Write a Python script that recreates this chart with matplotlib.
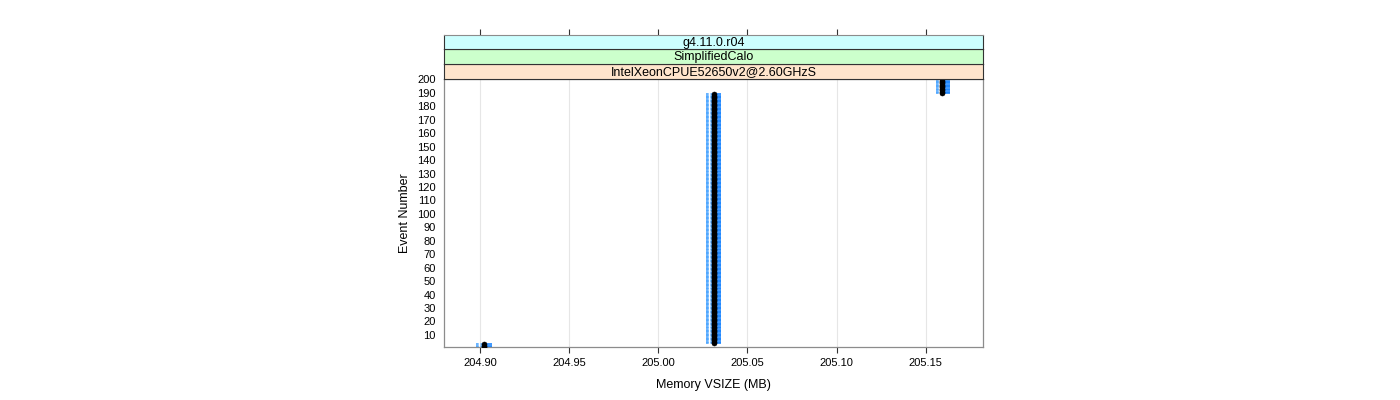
import numpy as np
import matplotlib
matplotlib.use('Agg')
import matplotlib.pyplot as plt

# ---- data ----
run_events = [3, 186, 11]                       # number of consecutive events in each run
run_mean = [204.9020, 205.0309, 205.1593]       # memory VSIZE (MB) per run
run_low = [204.8975, 205.0267, 205.1559]
run_high = [204.9063, 205.0351, 205.1638]
strip_labels = ['IntelXeonCPUE52650v2@2.60GHzS', 'SimplifiedCalo', 'g4.11.0.r04']
strip_colors = ['#ffe5cc', '#ccffcc', '#ccffff']
x_ticks = [204.90, 204.95, 205.00, 205.05, 205.10, 205.15]
x_ticklabels = ['204.90', '204.95', '205.00', '205.05', '205.10', '205.15']
y_ticks = list(range(10, 201, 10))

events = np.arange(1, sum(run_events) + 1)
mean = np.repeat(run_mean, run_events)
low = np.repeat(run_low, run_events)
high = np.repeat(run_high, run_events)

plt.rcParams['font.family'] = ['Liberation Sans', 'DejaVu Sans']

W, H = 1400, 400
fig = plt.figure(figsize=(14, 4), dpi=100)

def fx(px):
    return px / W

def fy(py):
    return 1 - py / H

xlim = (204.8795, 205.1823)
ylim = (1.0, 200.3)

left_px, right_px = 444, 983
top_px, bottom_px = 79, 347
ax = fig.add_axes([fx(left_px), fy(bottom_px), fx(right_px - left_px), (bottom_px - top_px) / H])
ax.set_xlim(*xlim)
ax.set_ylim(*ylim)

for xt in x_ticks:
    ax.axvline(xt, color='#e6e6e6', lw=0.8, zorder=0)

ax.hlines(events, low, mean, colors='#4da6ff', linestyles=(0, (1.6, 1.1)), lw=1.2, zorder=2)
ax.hlines(events, mean, high, colors='#1a85ff', linestyles='solid', lw=1.2, zorder=2)
ax.plot(mean, events, 'o', color='black', ms=3.6, mec='black', mew=0.4, zorder=3)

ax.set_xticks(x_ticks)
ax.set_xticklabels(x_ticklabels)
ax.set_yticks(y_ticks)
ax.tick_params(axis='x', direction='out', length=4, width=0.8, color='#333333',
               labelsize=8, pad=4)
ax.tick_params(axis='y', length=0, labelsize=8, pad=6)
for s in ax.spines.values():
    s.set_color('#8c8c8c')
    s.set_linewidth(0.9)
ax.set_xlabel('Memory VSIZE (MB)', fontsize=9, labelpad=8)
ax.set_ylabel('Event Number', fontsize=9, labelpad=4)

# ---- strips ----
strip_edges = [79, 64, 49, 35]
for i, (lab, col) in enumerate(zip(strip_labels, strip_colors)):
    bot, top = strip_edges[i], strip_edges[i + 1]
    sax = fig.add_axes([fx(left_px), fy(bot), fx(right_px - left_px), (bot - top) / H])
    sax.set_facecolor(col)
    sax.set_xlim(*xlim)
    sax.set_ylim(0, 1)
    sax.set_yticks([])
    sax.text(0.5, 0.45, lab, transform=sax.transAxes, ha='center', va='center', fontsize=9)
    for s in sax.spines.values():
        s.set_color('#333333')
        s.set_linewidth(0.8)
    if i == len(strip_labels) - 1:
        sax.set_xticks(x_ticks)
        sax.xaxis.tick_top()
        sax.tick_params(axis='x', direction='out', length=4, width=0.8, color='#333333',
                        labeltop=False, labelbottom=False)
        sax.spines['top'].set_color('#8c8c8c')
    else:
        sax.set_xticks([])

fig.savefig('out.png', dpi=100)
